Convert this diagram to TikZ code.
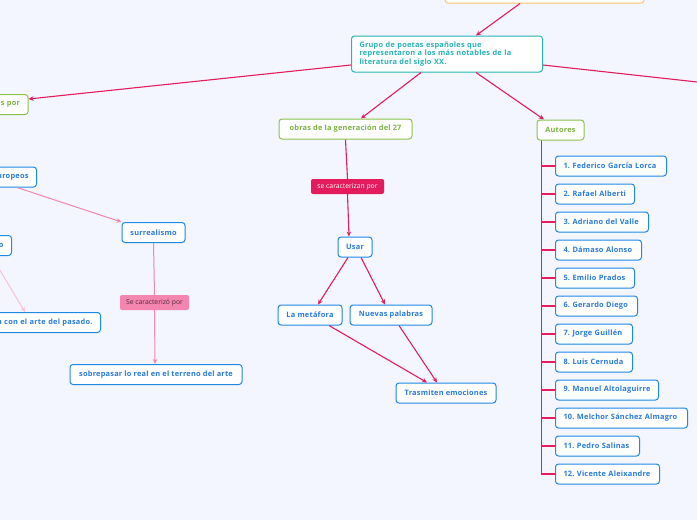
\documentclass[tikz,border=0pt]{standalone}
\usepackage{fontspec}
\setmainfont{Open Sans}
\usetikzlibrary{arrows.meta,calc}
\definecolor{bg}{RGB}{243,245,255}
\definecolor{redc}{RGB}{228,27,93}
\definecolor{pinkc}{RGB}{244,133,174}
\definecolor{lpink}{RGB}{250,192,212}
\definecolor{blueb}{RGB}{30,136,229}
\definecolor{bluet}{RGB}{40,122,220}
\definecolor{greenb}{RGB}{139,195,74}
\definecolor{greent}{RGB}{124,179,66}
\definecolor{tealc}{RGB}{38,180,180}
\definecolor{orangec}{RGB}{255,196,110}
\definecolor{darkt}{RGB}{80,40,60}
\tikzset{
  box/.style={draw, line width=1pt, rounded corners=3pt, fill=white, minimum height=20pt, inner sep=0pt, font=\fontsize{7.4}{8}\selectfont\bfseries\addfontfeatures{LetterSpace=3}\frenchspacing},
  bluebox/.style={box, draw=blueb, text=bluet},
  greenbox/.style={box, draw=greenb, text=greent},
  clipbox/.style={bluebox, inner xsep=8pt, align=right},
  autbox/.style={bluebox, anchor=west, inner xsep=8pt, align=left},
  lab/.style={rounded corners=2pt, minimum height=15pt, inner sep=0pt, font=\fontsize{6.8}{7}\selectfont},
  conn/.style={draw=redc, line width=1.1pt, -{Stealth[length=5pt,width=4.5pt]}},
  plain/.style={draw=redc, line width=1.1pt},
  pconn/.style={draw=pinkc, line width=1pt, -{Stealth[length=5pt,width=4.5pt]}},
  pplain/.style={draw=pinkc, line width=1pt},
  lconn/.style={draw=lpink, line width=1pt, -{Stealth[length=5pt,width=4.5pt]}},
  tree/.style={draw=redc, line width=1.8pt},
}
\begin{document}
\begin{tikzpicture}[x=1pt,y=-1pt]
\useasboundingbox[fill=bg] (0,0) rectangle (697,520);
% top and main
\node[box, draw=orangec, minimum width=199pt, minimum height=40pt] (top) at (544.5,-17) {};
\node[box, draw=tealc, text=tealc, minimum width=191pt, minimum height=36pt, text width=175pt, align=left, inner xsep=8pt, font=\fontsize{7.4}{8.7}\selectfont\bfseries\addfontfeatures{LetterSpace=3}] (main) at (447,54) {Grupo de poetas españoles que\\representaron a los más notables de la\\literatura del siglo XX.};
% left (cut) nodes
\node[greenbox, anchor=east, text width=45pt, inner xsep=8pt, align=right] (spor) at (28.5,104.5) {s por};
\node[clipbox, anchor=east, text width=45pt] (uro) at (37,177) {uropeos};
\node[clipbox, anchor=east, text width=30pt] (obox) at (12,245.5) {o};
\node[clipbox, anchor=east, text width=100pt] (pas) at (101,322.5) {a con el arte del pasado.};
\node[bluebox, minimum width=63pt] (surr) at (153.5,232.5) {surrealismo};
\node[lab, fill=pinkc, text=darkt, minimum width=69pt] (sc2) at (154.5,302.5) {Se caracterizó por};
\node[bluebox, minimum width=172pt] (sob) at (156,374.5) {sobrepasar lo real en el terreno del arte};
% center
\node[greenbox, minimum width=133pt] (obras) at (345.5,129) {obras de la generación del 27};
\node[lab, fill=redc, text=white, minimum width=73pt] (sc1) at (347.5,186.5) {se caracterizan por};
\node[bluebox, minimum width=34pt] (usar) at (355,247) {Usar};
\node[bluebox, minimum width=64pt] (met) at (310,315) {La metáfora};
\node[bluebox, minimum width=82pt] (nue) at (391,315) {Nuevas palabras};
\node[bluebox, minimum width=100pt] (tra) at (446,393) {Trasmiten emociones};
% autores
\node[greenbox, minimum width=47pt] (aut) at (560.5,130) {Autores};
\node[autbox, text width=95pt] (a1) at (555,166) {1. Federico García Lorca};
\node[autbox, text width=63pt] (a2) at (555,194) {2. Rafael Alberti};
\node[autbox, text width=77pt] (a3) at (555,222) {3. Adriano del Valle};
\node[autbox, text width=70pt] (a4) at (555,250) {4. Dámaso Alonso};
\node[autbox, text width=63pt] (a5) at (555,278) {5. Emilio Prados};
\node[autbox, text width=66pt] (a6) at (555,306) {6. Gerardo Diego};
\node[autbox, text width=61pt] (a7) at (555,334) {7. Jorge Guillén};
\node[autbox, text width=61pt] (a8) at (555,362) {8. Luis Cernuda};
\node[autbox, text width=87pt] (a9) at (555,390) {9. Manuel Altolaguirre};
\node[autbox, text width=116pt] (a10) at (555,418) {10. Melchor Sánchez Almagro};
\node[autbox, text width=68pt] (a11) at (555,446) {11. Pedro Salinas};
\node[autbox, text width=88pt] (a12) at (555,474) {12. Vicente Aleixandre};
\coordinate (rend) at (700,82.3);
% connectors
\draw[conn] ([xshift=-24.5pt]top.south) -- ([xshift=29pt]main.north);
\draw[conn] ([yshift=-11pt]main.west) -- ([yshift=5.5pt]spor.east);
\draw[plain] ([yshift=-11pt]main.east) -- (rend);
\draw[conn] ([xshift=-26pt]main.south) -- ([xshift=15.5pt]obras.north);
\draw[conn] ([xshift=29pt]main.south) -- ([xshift=-16.5pt]aut.north);
\draw[plain] (obras.south) -- (sc1.north);
\draw[conn] (sc1.south) -- ([xshift=-6pt]usar.north);
\draw[conn] ([xshift=-7pt]usar.south) -- ([xshift=8pt]met.north);
\draw[conn] ([xshift=6pt]usar.south) -- ([xshift=-6pt]nue.north);
\draw[conn] ([xshift=19pt]met.south) -- ([xshift=-19pt]tra.north);
\draw[conn] ([xshift=8pt]nue.south) -- ([xshift=-9pt]tra.north);
\draw[pconn] ([xshift=-20pt]uro.south east) -- (surr.north west);
\draw[pplain] (surr.south) -- (sc2.north);
\draw[pconn] (sc2.south) -- ([xshift=-1pt]sob.north);
\draw[lconn] ([xshift=-20.6pt]obox.south east) -- ([xshift=-76pt]pas.north east);
\foreach \i in {1,...,12}{\draw[tree] ([xshift=5pt]aut.south west) |- (a\i.west);}
\end{tikzpicture}
\end{document}
